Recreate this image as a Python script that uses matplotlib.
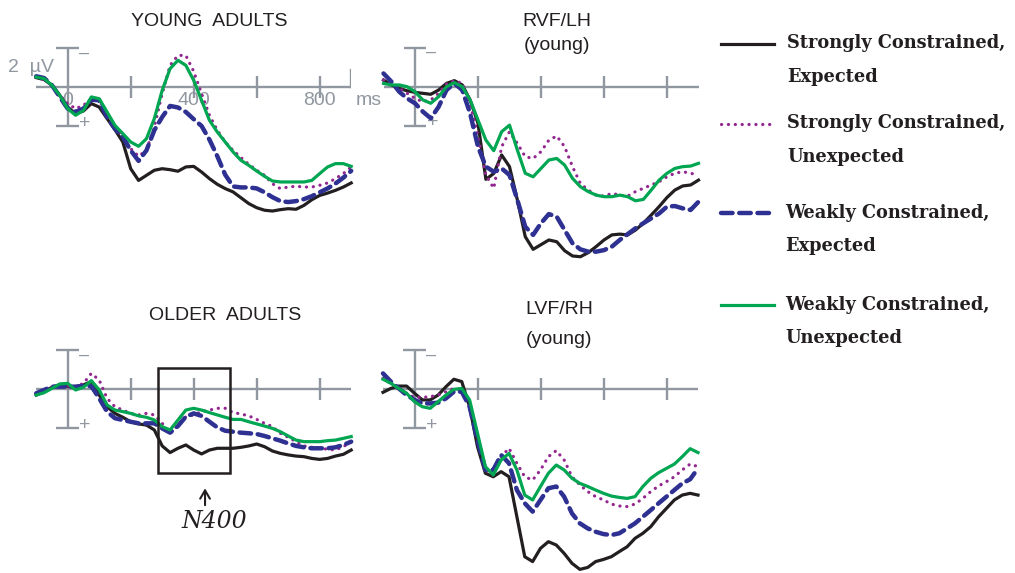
import matplotlib
matplotlib.use("Agg")
import matplotlib.pyplot as plt

# ---------------- data (µV, negative plotted up) ----------------
times = list(range(-100, 901, 25))

series_names = ["Strongly Constrained,\nExpected", "Strongly Constrained,\nUnexpected",
                "Weakly Constrained,\nExpected", "Weakly Constrained,\nUnexpected"]

young_se = [-0.48,-0.38,-0.09,0.43,1.03,1.37,1.23,0.85,1.03,1.62,2.19,2.82,4.19,4.79,4.53,4.27,4.19,4.24,4.32,4.10,4.07,4.36,4.70,4.99,5.21,5.38,5.68,5.98,6.19,6.32,6.36,6.29,6.24,6.27,6.07,5.78,5.56,5.44,5.30,5.13,4.92]
young_su = [-0.51,-0.38,-0.09,0.43,0.85,1.11,0.94,0.60,0.68,1.37,2.05,2.56,3.16,3.55,3.25,2.05,0.34,-1.11,-1.62,-1.62,-0.80,0.34,1.45,2.22,2.82,3.25,3.62,3.97,4.27,4.53,4.96,5.21,5.13,5.09,5.13,5.13,5.04,4.92,4.70,4.44,4.10]
young_we = [-0.55,-0.46,-0.09,0.51,1.11,1.28,1.11,0.65,0.68,1.54,2.14,2.56,3.25,3.79,3.25,2.22,1.54,0.97,1.05,1.28,1.65,2.00,2.70,3.55,4.50,5.10,5.15,5.15,5.20,5.40,5.65,5.85,5.90,5.85,5.75,5.60,5.40,5.20,4.95,4.65,4.30]
young_wu = [-0.51,-0.43,-0.09,0.43,1.11,1.45,1.20,0.51,0.60,1.28,1.97,2.39,2.82,3.04,2.65,1.62,0.17,-0.94,-1.37,-1.11,-0.34,0.68,1.71,2.31,2.82,3.33,3.76,4.02,4.31,4.58,4.82,4.87,4.87,4.87,4.87,4.79,4.44,4.10,3.93,3.93,4.07]

older_se = [0.31,0.14,-0.09,-0.21,-0.12,-0.12,-0.21,-0.38,0.31,0.91,1.25,1.45,1.68,1.79,1.85,2.10,2.92,3.26,3.04,2.87,3.13,3.33,3.13,3.04,3.04,3.04,2.99,2.92,2.82,2.96,3.18,3.30,3.38,3.44,3.47,3.56,3.61,3.56,3.44,3.35,3.13]
older_su = [0.31,0.14,-0.12,-0.21,-0.15,-0.12,-0.29,-0.80,-0.46,0.48,0.91,1.08,1.25,1.33,1.25,1.33,1.76,2.27,1.85,1.42,1.33,1.16,1.08,0.99,0.99,1.21,1.28,1.38,1.56,1.76,1.93,2.27,2.48,2.70,2.92,2.99,3.04,3.09,3.13,2.96,2.70]
older_we = [0.22,0.05,-0.12,-0.12,-0.12,-0.12,-0.15,-0.15,0.48,1.16,1.50,1.59,1.68,1.76,1.76,1.76,2.02,2.24,1.90,1.42,1.25,1.38,1.68,1.97,2.14,2.19,2.24,2.27,2.31,2.41,2.53,2.65,2.79,2.92,2.99,3.04,3.04,3.04,2.99,2.87,2.70]
older_wu = [0.31,0.19,-0.03,-0.26,-0.29,0.05,-0.09,-0.43,0.05,0.82,1.08,1.16,1.25,1.38,1.45,1.59,1.93,2.10,1.59,1.08,0.99,1.08,1.21,1.33,1.45,1.56,1.56,1.68,1.79,1.90,2.02,2.19,2.41,2.62,2.70,2.70,2.70,2.65,2.62,2.53,2.44]

rvf_se = [-0.34,-0.09,0.09,0.21,0.29,0.34,0.39,0.17,-0.17,-0.31,-0.09,0.68,1.88,4.75,4.45,3.50,4.10,5.81,7.69,8.34,8.10,7.86,7.95,8.41,8.68,8.72,8.51,8.20,7.86,7.60,7.56,7.60,7.35,7.00,6.58,6.15,5.68,5.30,5.09,5.04,4.79]
rvf_su = [-0.34,-0.17,0.09,0.34,0.60,0.77,0.68,0.34,-0.14,-0.31,-0.17,0.85,2.56,4.53,5.21,3.08,2.31,2.91,3.59,3.68,3.33,2.74,2.53,3.08,4.10,4.96,5.30,5.56,5.61,5.47,5.56,5.61,5.38,5.21,5.04,4.87,4.62,4.44,4.36,4.44,4.53]
rvf_we = [-0.68,-0.26,0.26,0.60,0.85,1.28,1.62,1.03,0.17,-0.17,0.17,1.37,3.08,4.10,4.36,4.19,4.53,5.81,7.18,7.60,7.00,6.53,6.67,7.35,8.03,8.34,8.46,8.46,8.38,8.20,7.86,7.56,7.26,7.00,6.75,6.50,6.15,6.12,6.24,6.32,5.90]
rvf_wu = [-0.17,-0.09,-0.09,0.00,0.26,0.68,0.85,0.51,0.00,-0.21,0.00,0.68,1.71,2.74,3.28,2.31,1.97,3.25,4.44,4.62,4.19,3.76,3.68,4.02,4.70,5.13,5.38,5.56,5.64,5.64,5.56,5.64,5.85,5.78,5.30,4.79,4.44,4.19,4.10,4.07,3.93]

lvf_se = [0.17,-0.03,-0.15,-0.15,0.22,0.56,0.56,0.31,-0.12,-0.50,-0.38,0.91,2.96,4.32,4.50,4.24,4.50,6.55,8.60,8.85,8.17,7.83,8.00,8.43,8.94,9.25,9.15,8.85,8.74,8.60,8.34,8.09,7.66,7.40,7.06,6.55,6.12,5.69,5.44,5.35,5.44]
lvf_su = [-0.55,-0.29,-0.03,0.22,0.43,0.43,0.39,0.31,0.14,-0.03,0.05,0.74,2.44,4.15,4.41,3.47,3.04,3.81,4.50,4.67,4.15,3.47,3.16,3.64,4.50,4.92,5.26,5.52,5.69,5.90,6.00,6.03,5.90,5.61,5.26,4.97,4.75,4.50,4.15,3.85,3.98]
lvf_we = [-0.80,-0.38,-0.03,0.31,0.56,0.74,0.74,0.70,0.48,0.14,0.14,0.91,2.62,4.15,4.15,3.38,3.81,5.18,5.86,6.29,5.69,5.09,5.00,5.52,6.38,6.89,7.15,7.32,7.44,7.49,7.40,7.15,6.89,6.55,6.21,5.86,5.52,5.18,4.84,4.63,4.07]
lvf_wu = [-0.50,-0.29,-0.03,0.22,0.65,0.91,0.99,0.65,0.31,0.02,-0.03,0.56,2.27,3.98,4.41,3.64,3.30,4.15,5.44,5.69,5.00,4.32,3.90,4.15,4.58,4.84,5.00,5.18,5.35,5.49,5.56,5.61,5.52,5.00,4.58,4.29,4.07,3.85,3.47,3.06,3.26]

tick_times = [200, 400, 600, 800]
tick_labels = {0: "0", 400: "400", 800: "800"}
n400_window = (288, 515)

# ---------------- styling ----------------
W, H = 1015, 573
GRAY = "#9097a0"
styles = [
    dict(color="#231f20", lw=2.3, ls="-"),
    dict(color="#92278f", lw=2.3, ls=(0, (0.05, 2.1)), dash_capstyle="round"),
    dict(color="#2e3192", lw=3.2, ls=(0, (2.6, 1.5)), dash_capstyle="round"),
    dict(color="#00a651", lw=2.3, ls="-"),
]
PX_UV = 19.5      # pixels per µV
PX_MS = 0.315     # pixels per ms

fig = plt.figure(figsize=(W / 100, H / 100), dpi=100)


def make_panel(zero_x, zero_y, ymax):
    left = zero_x - 100 * PX_MS
    top = zero_y - 3 * PX_UV
    bottom = zero_y + ymax * PX_UV
    ax = fig.add_axes([left / W, 1 - bottom / H, 1000 * PX_MS / W, (bottom - top) / H])
    ax.set_xlim(-100, 900)
    ax.set_ylim(ymax, -3)
    ax.axis("off")
    kw = dict(color=GRAY, lw=1.7, zorder=1, solid_capstyle="butt", clip_on=False)
    ax.plot([-100, 900], [0, 0], **kw)
    ax.plot([0, 0], [-2, 2], **kw)
    ax.plot([-36, 36], [-2, -2], **kw)
    ax.plot([-36, 36], [2, 2], **kw)
    for t in tick_times:
        ax.plot([t, t], [-0.56, 0.56], **kw)
    ax.text(52, -1.75, "\u2013", color=GRAY, fontsize=13, ha="center", va="center",
            family="Liberation Sans", zorder=1)
    ax.text(55, 1.85, "+", color=GRAY, fontsize=14, ha="center", va="center",
            family="Liberation Sans", zorder=1)
    return ax


def draw_series(ax, data):
    for vals, st in zip(data, styles):
        ax.plot(times, vals, zorder=3, clip_on=False, solid_joinstyle="round", **st)


ax_tl = make_panel(67.7, 87.0, 7.0)
ax_tr = make_panel(415.0, 86.7, 10.0)
ax_bl = make_panel(67.7, 389.0, 6.5)
ax_br = make_panel(414.5, 389.0, 9.3)

# top-left extras: end tick and labels
ax_tl.plot([900, 900], [-0.87, 0], color=GRAY, lw=1.7, zorder=1)
for t, lab in tick_labels.items():
    ax_tl.text(t, 0.67, lab, color=GRAY, fontsize=14, ha="center", va="center",
               family="Liberation Sans", zorder=1)
ax_tl.text(955, 0.67, "ms", color=GRAY, fontsize=14, ha="center", va="center",
           family="Liberation Sans", zorder=1, clip_on=False)
ax_tl.text(-190, -1.0, "2  \u00b5V", color=GRAY, fontsize=14, ha="left", va="center",
           family="Liberation Sans", zorder=1, clip_on=False)

draw_series(ax_tl, [young_se, young_su, young_we, young_wu])
draw_series(ax_tr, [rvf_se, rvf_su, rvf_we, rvf_wu])
draw_series(ax_bl, [older_se, older_su, older_we, older_wu])
draw_series(ax_br, [lvf_se, lvf_su, lvf_we, lvf_wu])

# N400 window and arrow
ax_bl.add_patch(plt.Rectangle((n400_window[0], -1.09), n400_window[1] - n400_window[0], 5.38,
                              fill=False, ec="#231f20", lw=1.8, zorder=4, clip_on=False))
ax_bl.annotate("", xy=(436, 4.95), xytext=(436, 6.1), annotation_clip=False,
               arrowprops=dict(arrowstyle="->,head_length=0.6,head_width=0.35",
                               color="#231f20", lw=1.5))

# overlay for titles & legend (pixel coordinates)
ov = fig.add_axes([0, 0, 1, 1])
ov.set_xlim(0, W)
ov.set_ylim(H, 0)
ov.axis("off")
ov.patch.set_alpha(0)

tkw = dict(ha="center", va="center", fontsize=14, family="Liberation Sans", color="#231f20")
ov.text(209, 22, "YOUNG  ADULTS", **tkw)
ov.text(225, 315, "OLDER  ADULTS", **tkw)
ov.text(557, 22, "RVF/LH", **tkw)
ov.text(557, 46, "(young)", **tkw)
ov.text(559, 310, "LVF/RH", **tkw)
ov.text(559, 339, "(young)", **tkw)
ov.text(214, 522, "N400", ha="center", va="center", fontsize=17, family="DejaVu Serif",
        style="italic", color="#231f20")

leg_y = [43.5, 123.5, 212.5, 304.5]
txt_x = [787, 787, 785, 785]
for name, st, y, tx in zip(series_names, styles, leg_y, txt_x):
    ov.plot([721, 774], [y, y], **st)
    l1, l2 = name.split("\n")
    ov.text(tx, y, l1, ha="left", va="center", fontsize=12.8, family="DejaVu Serif",
            weight="bold", color="#231f20")
    ov.text(tx, y + 33.5, l2, ha="left", va="center", fontsize=12.8, family="DejaVu Serif",
            weight="bold", color="#231f20")

fig.savefig("out.png", dpi=100)
